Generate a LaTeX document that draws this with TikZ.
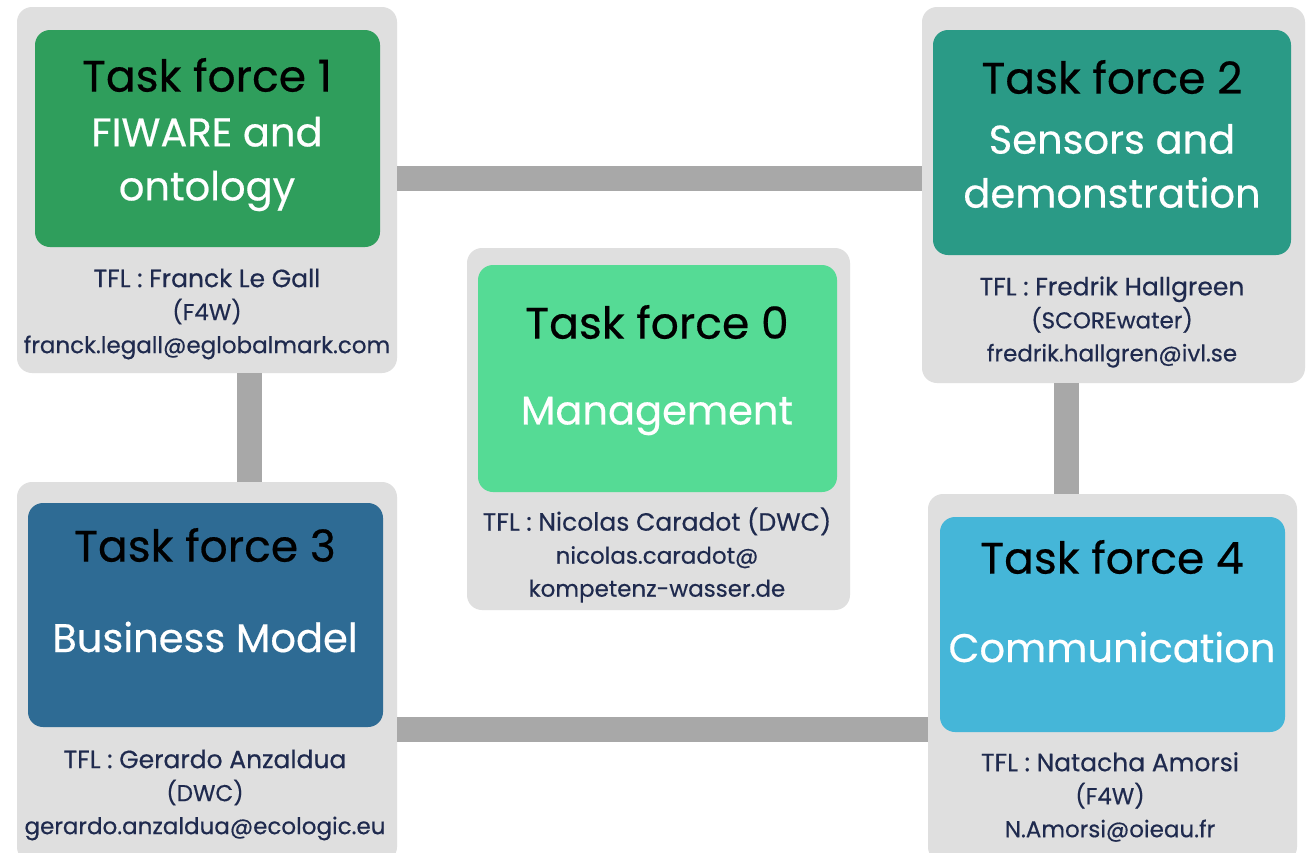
\documentclass[tikz,border=0pt]{standalone}
\usepackage{fontspec}
\setmainfont{Poppins}[FakeBold=0.45]
\usetikzlibrary{calc}
\definecolor{boxgrey}{HTML}{DFDFDF}
\definecolor{linkgrey}{HTML}{A8A8A8}
\definecolor{tfnavy}{HTML}{1F2A4E}
\definecolor{tfzero}{HTML}{55DB95}
\definecolor{tfone}{HTML}{2F9E5C}
\definecolor{tftwo}{HTML}{2A9A86}
\definecolor{tfthree}{HTML}{2E6B94}
\definecolor{tffour}{HTML}{45B6D8}
\newcommand{\leadline}[1]{{\fontsize{12.5}{16}\selectfont #1}}
\tikzset{
    outerbox/.style={fill=boxgrey, rounded corners=7.5pt, inner sep=0pt},
    innerbox/.style={rounded corners=7.5pt, inner sep=0pt},
    tftitle/.style={font=\fontsize{22}{26}\selectfont, text=black},
    tfsub/.style={font=\fontsize{20}{27}\selectfont, text=white, align=center},
    tflead/.style={font=\fontsize{11.5}{16.5}\selectfont, text=tfnavy, align=center},
    link/.style={draw=linkgrey, line width=12.5pt}
}

\begin{document}
\begin{tikzpicture}[x=0.5pt,y=-0.5pt]
    \useasboundingbox[fill=white] (0,0) rectangle (1310,852);
    % grey cards
    \node[outerbox, minimum width=190pt, minimum height=183pt] (tf1) at (207,190) {};
    \node[outerbox, minimum width=191.5pt, minimum height=188pt] (tf2) at (1113.5,195) {};
    \node[outerbox, minimum width=191.5pt, minimum height=181pt] (tf0) at (658.5,429) {};
    \node[outerbox, minimum width=190pt, minimum height=190pt] (tf3) at (207,672) {};
    \node[outerbox, minimum width=184.5pt, minimum height=184pt] (tf4) at (1112.5,678) {};
    % coloured heads
    \node[innerbox, fill=tfone, minimum width=172.5pt, minimum height=108.5pt] (tf1in) at (207.5,138.5) {};
    \node[innerbox, fill=tftwo, minimum width=179pt, minimum height=112.5pt] (tf2in) at (1112,142.5) {};
    \node[innerbox, fill=tfzero, minimum width=179.5pt, minimum height=113.5pt] (tf0in) at (657.5,378.5) {};
    \node[innerbox, fill=tfthree, minimum width=177.5pt, minimum height=112pt] (tf3in) at (205.5,615) {};
    \node[innerbox, fill=tffour, minimum width=172.5pt, minimum height=107.5pt] (tf4in) at (1112.5,624.5) {};
    % links
    \draw[link] ([yshift=6pt]tf1.east) coordinate (top1) -- (top1 -| tf2.west);
    \draw[link] ([xshift=21pt]tf1.south) coordinate (left1) -- (left1 |- tf3.north);
    \draw[link] ([xshift=-23.75pt]tf2.south) coordinate (right1) -- (right1 |- tf4.north);
    \draw[link] ([yshift=-28.75pt]tf3.east) coordinate (bot1) -- (bot1 -| tf4.west);
    % texts
    \node[tftitle] (tf1title) at (207,75) {Task force 1};
    \node[tfsub] (tf1sub) at (207,164) {FIWARE and\\ontology};
    \node[tflead] (tf1lead) at (207,314) {\leadline{TFL : Franck Le Gall}\\(F4W)\\franck.legall@eglobalmark.com};
    \node[tftitle] (tf2title) at (1112,77) {Task force 2};
    \node[tfsub] (tf2sub) at (1112,166) {Sensors and\\demonstration};
    \node[tflead] (tf2lead) at (1112,322) {\leadline{TFL : Fredrik Hallgreen}\\(SCOREwater)\\fredrik.hallgren@ivl.se};
    \node[tftitle] (tf0title) at (657,322) {Task force 0};
    \node[tfsub] (tf0sub) at (657,416) {Management};
    \node[tflead] (tf0lead) at (657,555) {\leadline{TFL : Nicolas Caradot (DWC)}\\nicolas.caradot@\\kompetenz-wasser.de};
    \node[tftitle] (tf3title) at (205,545) {Task force 3};
    \node[tfsub] (tf3sub) at (205,637) {Business Model};
    \node[tflead] (tf3lead) at (205,795) {\leadline{TFL : Gerardo Anzaldua}\\(DWC)\\gerardo.anzaldua@ecologic.eu};
    \node[tftitle] (tf4title) at (1112,557) {Task force 4};
    \node[tfsub] (tf4sub) at (1112,647) {Communication};
    \node[tflead] (tf4lead) at (1110,797) {\leadline{TFL : Natacha Amorsi}\\(F4W)\\N.Amorsi@oieau.fr};
\end{tikzpicture}
\end{document}
